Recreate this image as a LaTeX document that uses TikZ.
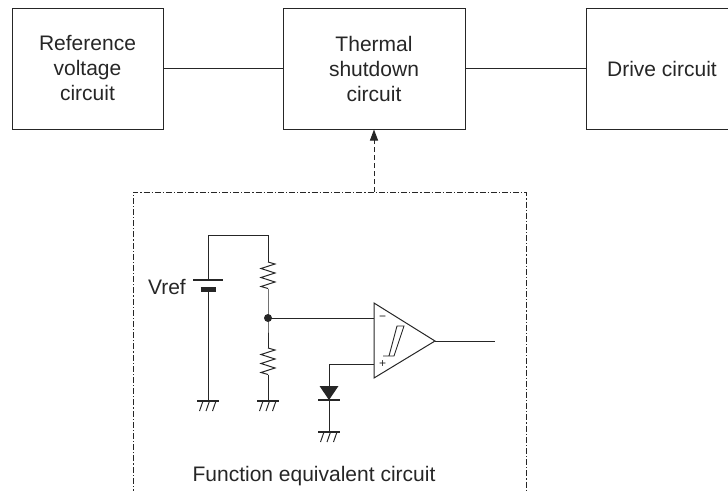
\documentclass[tikz,border=0pt]{standalone}
\usepackage{fontspec}
\setmainfont{Liberation Sans}
\usetikzlibrary{arrows.meta}
\definecolor{ink}{HTML}{262626}
\begin{document}
\begin{tikzpicture}[x=1pt,y=-1pt,
  wire/.style={line width=1pt, draw=ink},
  blk/.style={wire, rectangle, minimum width=#1, minimum height=121pt, inner sep=0pt,
    align=center, font=\fontsize{21}{25}\selectfont, text=ink},
  lbl/.style={font=\fontsize{21}{25}\selectfont, text=ink, inner sep=0pt},
  sgn/.style={font=\fontsize{12}{12}\selectfont, text=ink, inner sep=0pt},
  fbox/.style={line width=0.8pt, draw=ink, dash pattern=on 6pt off 2pt on 1.2pt off 2pt},
  darr/.style={line width=1pt, draw=ink, dash pattern=on 5pt off 3pt},
  resz/.pic={\draw[wire] (0,0) -- (7,2) -- (-7,6.5) -- (7,11) -- (-7,15.5) -- (7,20) -- (-7,24.5) -- (0,26.5);},
  gnd/.pic={\draw[line width=1.6pt, draw=ink] (-11,0) -- (11,0);
    \draw[line width=1pt, draw=ink] (-5,0) -- (-8.5,10) (1.5,0) -- (-2,10) (8,0) -- (4.5,10);}
]
\useasboundingbox (0,0) rectangle (728,490);
% blocks
\node[blk=151pt] (ref) at (87.5,68.5) {Reference\\voltage\\circuit};
\node[blk=182pt] (tsd) at (374,68.5) {Thermal\\shutdown\\circuit};
\node[blk=152pt] (drv) at (662,68.5) {Drive circuit};
\draw[wire] (ref.east) -- (tsd.west);
\draw[wire] (tsd.east) -- (drv.west);
% function box
\coordinate (fbl) at (133,495);
\coordinate (ftl) at (133,192);
\coordinate (ftr) at (526,192);
\coordinate (fbr) at (526,495);
\coordinate (ftop) at (374,192);
\draw[fbox] (fbl) -- (ftl) -- (ftr) -- (fbr);
\draw[darr, -{Triangle[length=11pt,width=8pt]}] (ftop) -- (tsd.south);
% battery branch
\coordinate (btop) at (208,280);
\coordinate (bbot) at (208,289);
\coordinate (tl) at (208,235);
\coordinate (tr) at (268,235);
\coordinate (r1t) at (268,262);
\coordinate (r1b) at (268,288.5);
\coordinate (nd) at (268,318);
\coordinate (r2t) at (268,348);
\coordinate (r2b) at (268,374.5);
\coordinate (g1) at (208,401);
\coordinate (g2) at (268,401);
\draw[wire] (btop) -- (tl) -- (tr) -- (r1t);
\draw[line width=1.6pt, draw=ink] (193,280) -- (223,280);
\draw[line width=5pt, draw=ink] (200.5,289) -- (215.5,289);
\draw[wire] (bbot) -- (g1);
\pic at (g1) {gnd};
\pic at (r1t) {resz};
\pic at (r2t) {resz};
\draw[wire] (r1b) -- (nd) -- (r2t);
\draw[wire] (r2b) -- (g2);
\pic at (g2) {gnd};
\fill[ink] (nd) circle (4pt);
\node[lbl, anchor=east] (vref) at (186,287) {Vref};
% comparator
\coordinate (oa1) at (374,303);
\coordinate (oa2) at (435,341);
\coordinate (oa3) at (374,378);
\coordinate (inm) at (374,318);
\coordinate (inp) at (374,364);
\coordinate (out) at (495,341);
\draw[wire] (oa1) -- (oa2) -- (oa3) -- cycle;
\draw[wire] (nd) -- (inm);
\draw[wire] (oa2) -- (out);
\node[sgn] (mn) at (382.5,318.5) {−};
\node[sgn] (pl) at (382.7,364.5) {+};
\draw[line width=0.9pt, draw=ink] (383,356) -- (394,356) -- (404,326) -- (397,326) -- (389,356);
% diode branch
\coordinate (pk) at (329,364);
\coordinate (dt) at (329,386);
\coordinate (dk) at (329,400);
\coordinate (g3) at (329,432);
\draw[wire] (inp) -- (pk) -- (dt);
\fill[ink] (319.5,386) -- (338.5,386) -- (329,400) -- cycle;
\draw[line width=1.6pt, draw=ink] (318,400) -- (340,400);
\draw[wire] (dk) -- (g3);
\pic at (g3) {gnd};
\node[lbl, anchor=base] (fec) at (314,481) {Function equivalent circuit};
\end{tikzpicture}
\end{document}
